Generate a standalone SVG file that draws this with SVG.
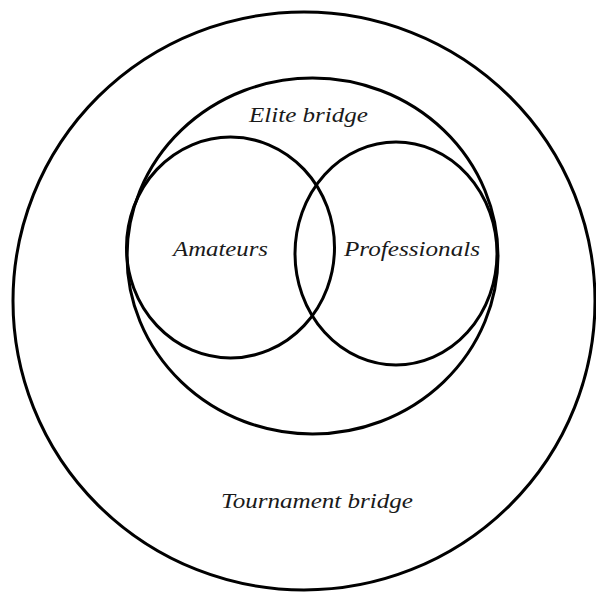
<svg xmlns="http://www.w3.org/2000/svg" width="596" height="592" viewBox="0 0 596 592">
<style>
.c{fill:none;stroke:#000;stroke-width:3}
.t{font-family:"Liberation Serif","Times New Roman",serif;font-style:italic;font-size:22px;fill:#1a1a1a;text-anchor:middle}
</style>
<rect width="596" height="592" fill="#fff"/>
<g id="tournament">
<ellipse class="c" cx="304" cy="301" rx="291" ry="289"/>
<text class="t" x="317" y="508" textLength="192" lengthAdjust="spacingAndGlyphs">Tournament bridge</text>
</g>
<g id="elite">
<ellipse class="c" cx="312.5" cy="256" rx="185.5" ry="178"/>
<text class="t" x="308.5" y="122" textLength="119" lengthAdjust="spacingAndGlyphs">Elite bridge</text>
</g>
<g id="amateurs">
<ellipse class="c" cx="230.5" cy="247.5" rx="104" ry="110.5"/>
<text class="t" x="220.5" y="256" textLength="95" lengthAdjust="spacingAndGlyphs">Amateurs</text>
</g>
<g id="professionals">
<ellipse class="c" cx="396" cy="253.5" rx="101" ry="111.5"/>
<text class="t" x="412" y="256" textLength="136" lengthAdjust="spacingAndGlyphs">Professionals</text>
</g>
<g id="connectors"/>
</svg>
